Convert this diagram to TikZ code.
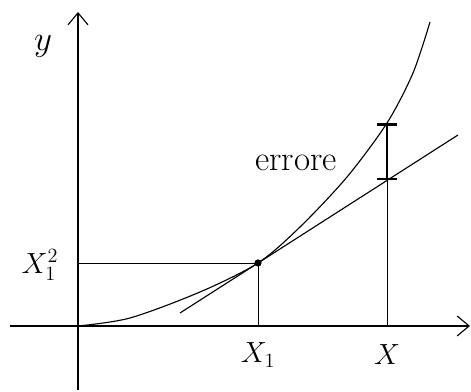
\documentclass[tikz,border=0pt]{standalone}
\usepackage{amsmath,amssymb}
\usepackage{xcolor}
\usepackage{tikz}
\usetikzlibrary{arrows,arrows.meta,calc}
\tikzset{>={Straight Barb[length=3mm,width=5mm]}}
\tikzset{
  axisline/.style={->,thick},
  guide/.style={thin},
  lbl/.style={font=\huge},
}

\begin{document}
\begin{tikzpicture}
\useasboundingbox (-1.95,-1.65) rectangle (9.825,8.15);
% axes
\coordinate (O) at (0,0);
\coordinate (xl) at (-1.7,0);
\coordinate (xr) at (9.8,0);
\coordinate (yb) at (0,-1.6);
\coordinate (yt) at (0,7.85);
\draw[axisline] (xl) -- (xr);
\draw[axisline] (yb) -- (yt);
\node[lbl,font=\Huge] (ylab) at (-0.875,7.0) {$y$};
% curve
\draw[thick] plot[smooth] coordinates {(0,0) (1.3,0.2) (3.05,0.85) (4.5,1.575)
  (5.55,2.475) (6.725,3.725) (7.725,5.075) (8.375,6.325) (8.8,7.6)};
% point of tangency
\coordinate (P) at (4.5,1.575);
\coordinate (Px) at (4.5,0);
\coordinate (Py) at (0,1.575);
\draw[guide] (Py) -- (P);
\draw[guide] (P) -- (Px);
\fill (P) circle (0.09);
\node[lbl] (x1sq) at (-0.95,1.525) {$X_1^2$};
\node[lbl] (x1) at (4.5,-0.725) {$X_1$};
% tangent
\coordinate (Ta) at ($(P)+(-1.95,-1.25)$);
\coordinate (Tb) at ($(P)+(5.0,3.2)$);
\draw[thick] (Ta) -- (Tb);
% error at X
\coordinate (Xa) at (7.725,0);
\coordinate (Xt) at (7.725,3.64);
\coordinate (Xc) at (7.725,5.075);
\draw[guide] (Xa) -- (Xt);
\draw[{Bar[width=5mm]}-{Bar[width=5mm]},line width=2pt] (Xt) -- (Xc);
\node[lbl,font=\Huge] (err) at (5.45,4.075) {errore};
\node[lbl] (xx) at (7.725,-0.725) {$X$};
\end{tikzpicture}
\end{document}
